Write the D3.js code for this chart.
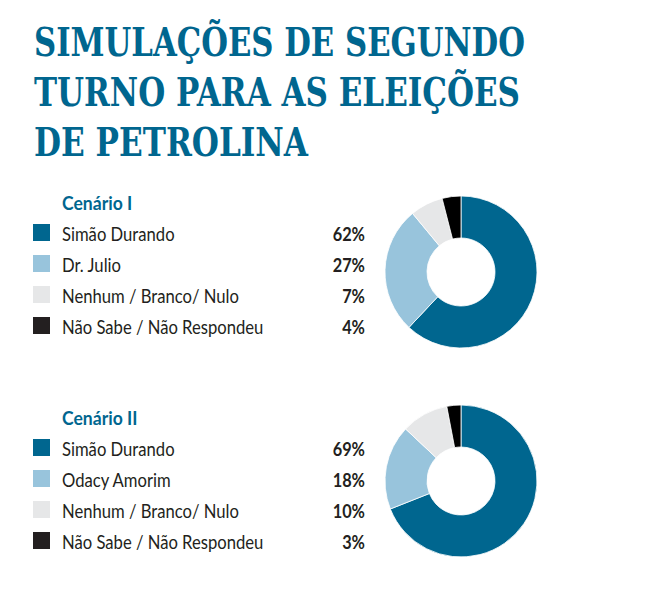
<!DOCTYPE html>
<html><head><meta charset="utf-8">
<script src="https://cdn.jsdelivr.net/npm/d3@7"></script>
<style>body{margin:0;background:#fff}</style>
</head><body>
<svg id="c" width="650" height="592"></svg>
<script>
const titleLines = ["SIMULAÇÕES DE SEGUNDO", "TURNO PARA AS ELEIÇÕES", "DE PETROLINA"];
const scenario1Title = "Cenário I";
const scenario1Labels = ["Simão Durando", "Dr. Julio", "Nenhum / Branco/ Nulo", "Não Sabe / Não Respondeu"];
const scenario1Values = [62, 27, 7, 4];
const scenario2Title = "Cenário II";
const scenario2Labels = ["Simão Durando", "Odacy Amorim", "Nenhum / Branco/ Nulo", "Não Sabe / Não Respondeu"];
const scenario2Values = [69, 18, 10, 3];
const sliceColors = ["#00668f", "#98c4dc", "#e6e7e8", "#000000"];
const swatchColors = ["#00668f", "#98c4dc", "#e6e7e8", "#231f20"];

const svg = d3.select("#c");
const blue = "#00668f";
const sans = "Lato, 'Open Sans', sans-serif";

// Title
const titleWidths = [491, 486, 274];
titleLines.forEach((t, i) => {
  svg.append("text").attr("x", 34).attr("y", 56 + i * 50)
    .attr("font-family", "'DejaVu Serif Condensed','DejaVu Serif',serif")
    .attr("font-stretch", "condensed")
    .attr("font-weight", "bold").attr("font-size", 39)
    .attr("fill", blue)
    .attr("textLength", titleWidths[i]).attr("lengthAdjust", "spacingAndGlyphs")
    .text(t);
});

function scenario(title, labels, values, y0, cy) {
  const g = svg.append("g");
  g.append("text").attr("transform", `translate(62,${y0}) scale(0.95,1)`)
    .attr("font-family", sans).attr("font-weight", "bold")
    .attr("font-size", 18.5).attr("fill", blue).text(title);
  const rowY = d3.scaleBand().domain(d3.range(labels.length)).range([y0 + 14, y0 + 14 + 31 * labels.length]);
  labels.forEach((l, i) => {
    const y = rowY(i);
    g.append("rect").attr("x", 33).attr("y", y).attr("width", 17).attr("height", 17).attr("fill", swatchColors[i]);
    g.append("text").attr("transform", `translate(62,${y + 17}) scale(0.9,1)`)
      .attr("font-family", sans).attr("font-size", 18.5)
      .attr("fill", "#231f20").text(l);
    g.append("text").attr("transform", `translate(365,${y + 17}) scale(0.86,1)`).attr("text-anchor", "end")
      .attr("font-family", sans).attr("font-weight", "bold").attr("font-size", 19)
      .attr("fill", "#231f20").text(values[i] + "%");
  });
  const pie = d3.pie().sort(null).value(d => d);
  const arc = d3.arc().innerRadius(34).outerRadius(76);
  const dg = svg.append("g").attr("transform", `translate(461,${cy})`);
  dg.selectAll("path").data(pie(values)).join("path")
    .attr("d", arc).attr("fill", (d, i) => sliceColors[i])
    .attr("stroke", "#fff").attr("stroke-width", 0.8);
}
scenario(scenario1Title, scenario1Labels, scenario1Values, 210, 272);
scenario(scenario2Title, scenario2Labels, scenario2Values, 425, 481);
</script>
</body></html>
